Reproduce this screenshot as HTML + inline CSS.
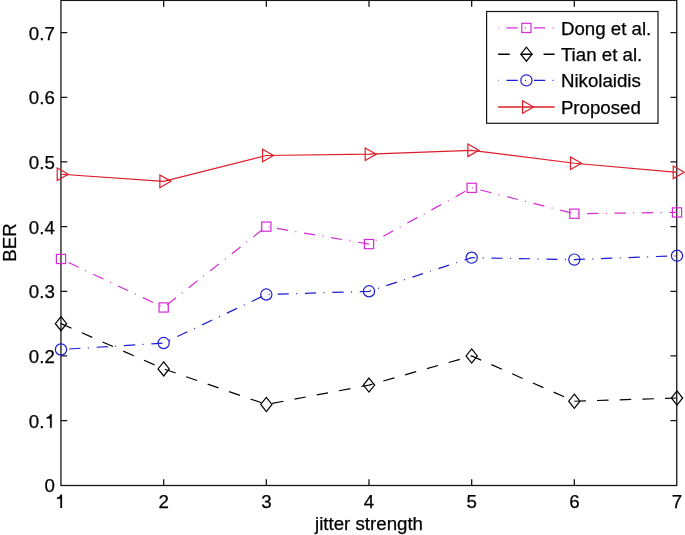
<!DOCTYPE html>
<html><head><meta charset="utf-8"><style>
html,body{margin:0;padding:0;background:#fff;width:685px;height:535px;overflow:hidden;}
svg{display:block;font-family:"Liberation Sans",sans-serif;will-change:transform;}
</style></head><body>
<svg width="685" height="535" viewBox="0 0 685 535">
<rect width="685" height="535" fill="#fff"/>
<rect x="60.95" y="0.4" width="615.80" height="485.10" fill="none" stroke="#161616" stroke-width="1.3"/>
<path d="M163.67,485.50v-6.3M163.67,0.40v6.3M266.33,485.50v-6.3M266.33,0.40v6.3M369.00,485.50v-6.3M369.00,0.40v6.3M471.67,485.50v-6.3M471.67,0.40v6.3M574.33,485.50v-6.3M574.33,0.40v6.3M60.95,420.63h6.3M676.75,420.63h-6.3M60.95,355.97h6.3M676.75,355.97h-6.3M60.95,291.30h6.3M676.75,291.30h-6.3M60.95,226.63h6.3M676.75,226.63h-6.3M60.95,161.97h6.3M676.75,161.97h-6.3M60.95,97.30h6.3M676.75,97.30h-6.3M60.95,32.63h6.3M676.75,32.63h-6.3" stroke="#161616" stroke-width="1.3" fill="none"/>
<polyline points="61.00,258.97 163.67,307.47 266.33,226.63 369.00,244.09 471.67,187.83 574.33,213.70 677.00,212.41" fill="none" stroke="#d52ad5" stroke-width="1.2" stroke-dasharray="1 7.8 11.2 7.42" stroke-dashoffset="0.5"/>
<rect x="56.40" y="254.37" width="9.20" height="9.20" fill="none" stroke="#d52ad5" stroke-width="1.2"/>
<rect x="159.07" y="302.87" width="9.20" height="9.20" fill="none" stroke="#d52ad5" stroke-width="1.2"/>
<rect x="261.73" y="222.03" width="9.20" height="9.20" fill="none" stroke="#d52ad5" stroke-width="1.2"/>
<rect x="364.40" y="239.49" width="9.20" height="9.20" fill="none" stroke="#d52ad5" stroke-width="1.2"/>
<rect x="467.07" y="183.23" width="9.20" height="9.20" fill="none" stroke="#d52ad5" stroke-width="1.2"/>
<rect x="569.73" y="209.10" width="9.20" height="9.20" fill="none" stroke="#d52ad5" stroke-width="1.2"/>
<rect x="672.40" y="207.81" width="9.20" height="9.20" fill="none" stroke="#d52ad5" stroke-width="1.2"/>
<polyline points="61.00,323.63 163.67,368.90 266.33,404.47 369.00,385.07 471.67,355.97 574.33,401.23 677.00,398.00" fill="none" stroke="#000000" stroke-width="1.2" stroke-dasharray="11.5 11.18"/>
<path d="M61.00,316.58 L66.65,323.63 L61.00,330.68 L55.35,323.63 Z" fill="none" stroke="#000000" stroke-width="1.2"/>
<path d="M163.67,361.85 L169.32,368.90 L163.67,375.95 L158.02,368.90 Z" fill="none" stroke="#000000" stroke-width="1.2"/>
<path d="M266.33,397.42 L271.98,404.47 L266.33,411.52 L260.68,404.47 Z" fill="none" stroke="#000000" stroke-width="1.2"/>
<path d="M369.00,378.02 L374.65,385.07 L369.00,392.12 L363.35,385.07 Z" fill="none" stroke="#000000" stroke-width="1.2"/>
<path d="M471.67,348.92 L477.32,355.97 L471.67,363.02 L466.02,355.97 Z" fill="none" stroke="#000000" stroke-width="1.2"/>
<path d="M574.33,394.18 L579.98,401.23 L574.33,408.28 L568.68,401.23 Z" fill="none" stroke="#000000" stroke-width="1.2"/>
<path d="M677.00,390.95 L682.65,398.00 L677.00,405.05 L671.35,398.00 Z" fill="none" stroke="#000000" stroke-width="1.2"/>
<polyline points="61.00,349.50 163.67,343.03 266.33,294.53 369.00,291.30 471.67,257.67 574.33,259.61 677.00,255.73" fill="none" stroke="#1c1cd0" stroke-width="1.2" stroke-dasharray="1 7.8 11.2 7.42" stroke-dashoffset="0.5"/>
<circle cx="61.00" cy="349.50" r="5.6" fill="none" stroke="#1c1cd0" stroke-width="1.2"/>
<circle cx="163.67" cy="343.03" r="5.6" fill="none" stroke="#1c1cd0" stroke-width="1.2"/>
<circle cx="266.33" cy="294.53" r="5.6" fill="none" stroke="#1c1cd0" stroke-width="1.2"/>
<circle cx="369.00" cy="291.30" r="5.6" fill="none" stroke="#1c1cd0" stroke-width="1.2"/>
<circle cx="471.67" cy="257.67" r="5.6" fill="none" stroke="#1c1cd0" stroke-width="1.2"/>
<circle cx="574.33" cy="259.61" r="5.6" fill="none" stroke="#1c1cd0" stroke-width="1.2"/>
<circle cx="677.00" cy="255.73" r="5.6" fill="none" stroke="#1c1cd0" stroke-width="1.2"/>
<polyline points="61.00,174.25 163.67,181.37 266.33,155.50 369.00,154.20 471.67,150.32 574.33,163.26 677.00,172.31" fill="none" stroke="#dc1e2a" stroke-width="1.2"/>
<path d="M57.20,167.95 L68.20,174.25 L57.20,180.55 Z" fill="none" stroke="#dc1e2a" stroke-width="1.2" stroke-linejoin="miter"/>
<path d="M159.87,175.07 L170.87,181.37 L159.87,187.67 Z" fill="none" stroke="#dc1e2a" stroke-width="1.2" stroke-linejoin="miter"/>
<path d="M262.53,149.20 L273.53,155.50 L262.53,161.80 Z" fill="none" stroke="#dc1e2a" stroke-width="1.2" stroke-linejoin="miter"/>
<path d="M365.20,147.90 L376.20,154.20 L365.20,160.50 Z" fill="none" stroke="#dc1e2a" stroke-width="1.2" stroke-linejoin="miter"/>
<path d="M467.87,144.02 L478.87,150.32 L467.87,156.62 Z" fill="none" stroke="#dc1e2a" stroke-width="1.2" stroke-linejoin="miter"/>
<path d="M570.53,156.96 L581.53,163.26 L570.53,169.56 Z" fill="none" stroke="#dc1e2a" stroke-width="1.2" stroke-linejoin="miter"/>
<path d="M673.20,166.01 L684.20,172.31 L673.20,178.61 Z" fill="none" stroke="#dc1e2a" stroke-width="1.2" stroke-linejoin="miter"/>
<path d="M61.99,494.64 L61.99,507.90 L60.41,507.90 L60.41,498.74 L57.02,498.74 L57.02,497.52 C59.23,497.26 59.92,496.64 60.46,494.64 Z" fill="#000" stroke="#000" stroke-width="0.25"/>
<text x="163.67" y="507.90" text-anchor="middle" font-family="Liberation Sans, sans-serif" font-size="18.7" fill="#000" stroke="#000" stroke-width="0.25">2</text>
<text x="266.33" y="507.90" text-anchor="middle" font-family="Liberation Sans, sans-serif" font-size="18.7" fill="#000" stroke="#000" stroke-width="0.25">3</text>
<text x="369.00" y="507.90" text-anchor="middle" font-family="Liberation Sans, sans-serif" font-size="18.7" fill="#000" stroke="#000" stroke-width="0.25">4</text>
<text x="471.67" y="507.90" text-anchor="middle" font-family="Liberation Sans, sans-serif" font-size="18.7" fill="#000" stroke="#000" stroke-width="0.25">5</text>
<text x="574.33" y="507.90" text-anchor="middle" font-family="Liberation Sans, sans-serif" font-size="18.7" fill="#000" stroke="#000" stroke-width="0.25">6</text>
<text x="677.00" y="507.90" text-anchor="middle" font-family="Liberation Sans, sans-serif" font-size="18.7" fill="#000" stroke="#000" stroke-width="0.25">7</text>
<text x="54.80" y="492.30" text-anchor="end" font-family="Liberation Sans, sans-serif" font-size="18.7" fill="#000" stroke="#000" stroke-width="0.25">0</text>
<text x="44.40" y="427.63" text-anchor="end" font-family="Liberation Sans, sans-serif" font-size="18.7" fill="#000" stroke="#000" stroke-width="0.25">0.</text>
<path d="M51.69,414.37 L51.69,427.63 L50.11,427.63 L50.11,418.47 L46.72,418.47 L46.72,417.25 C48.93,416.99 49.62,416.38 50.16,414.37 Z" fill="#000" stroke="#000" stroke-width="0.25"/>
<text x="54.80" y="362.97" text-anchor="end" font-family="Liberation Sans, sans-serif" font-size="18.7" fill="#000" stroke="#000" stroke-width="0.25">0.2</text>
<text x="54.80" y="298.30" text-anchor="end" font-family="Liberation Sans, sans-serif" font-size="18.7" fill="#000" stroke="#000" stroke-width="0.25">0.3</text>
<text x="54.80" y="233.63" text-anchor="end" font-family="Liberation Sans, sans-serif" font-size="18.7" fill="#000" stroke="#000" stroke-width="0.25">0.4</text>
<text x="54.80" y="168.97" text-anchor="end" font-family="Liberation Sans, sans-serif" font-size="18.7" fill="#000" stroke="#000" stroke-width="0.25">0.5</text>
<text x="54.80" y="104.30" text-anchor="end" font-family="Liberation Sans, sans-serif" font-size="18.7" fill="#000" stroke="#000" stroke-width="0.25">0.6</text>
<text x="54.80" y="39.63" text-anchor="end" font-family="Liberation Sans, sans-serif" font-size="18.7" fill="#000" stroke="#000" stroke-width="0.25">0.7</text>
<text x="369.00" y="529.5" text-anchor="middle" font-family="Liberation Sans, sans-serif" font-size="18.7" fill="#000" stroke="#000" stroke-width="0.25">jitter strength</text>
<text transform="translate(16.3,242.5) rotate(-90)" text-anchor="middle" font-family="Liberation Sans, sans-serif" font-size="18.7" fill="#000" stroke="#000" stroke-width="0.25">BER</text>
<rect x="486.6" y="11.5" width="171.40" height="111.80" fill="#fff" stroke="#151515" stroke-width="1.2"/>
<line x1="498.2" y1="27.9" x2="554.6" y2="27.9" stroke="#d52ad5" stroke-width="1.35" stroke-dasharray="1 7.8 11.2 7.42" stroke-dashoffset="0.5"/>
<rect x="521.80" y="23.30" width="9.20" height="9.20" fill="none" stroke="#d52ad5" stroke-width="1.2"/>
<text x="560.9" y="34.50" font-family="Liberation Sans, sans-serif" font-size="18.7" fill="#000" stroke="#000" stroke-width="0.25">Dong et al.</text>
<line x1="498.2" y1="54.2" x2="554.6" y2="54.2" stroke="#000000" stroke-width="1.35" stroke-dasharray="11.5 11.18"/>
<path d="M526.40,47.15 L532.05,54.20 L526.40,61.25 L520.75,54.20 Z" fill="none" stroke="#000000" stroke-width="1.2"/>
<text x="560.9" y="60.70" font-family="Liberation Sans, sans-serif" font-size="18.7" fill="#000" stroke="#000" stroke-width="0.25">Tian et al.</text>
<line x1="498.2" y1="80.4" x2="554.6" y2="80.4" stroke="#1c1cd0" stroke-width="1.35" stroke-dasharray="1 7.8 11.2 7.42" stroke-dashoffset="0.5"/>
<circle cx="526.40" cy="80.40" r="5.6" fill="none" stroke="#1c1cd0" stroke-width="1.2"/>
<text x="560.9" y="87.10" font-family="Liberation Sans, sans-serif" font-size="18.7" fill="#000" stroke="#000" stroke-width="0.25">Nikolaidis</text>
<line x1="498.2" y1="107.0" x2="554.6" y2="107.0" stroke="#dc1e2a" stroke-width="1.35"/>
<path d="M522.60,100.70 L533.60,107.00 L522.60,113.30 Z" fill="none" stroke="#dc1e2a" stroke-width="1.2" stroke-linejoin="miter"/>
<text x="560.9" y="113.60" font-family="Liberation Sans, sans-serif" font-size="18.7" fill="#000" stroke="#000" stroke-width="0.25">Proposed</text>
</svg>
</body></html>
